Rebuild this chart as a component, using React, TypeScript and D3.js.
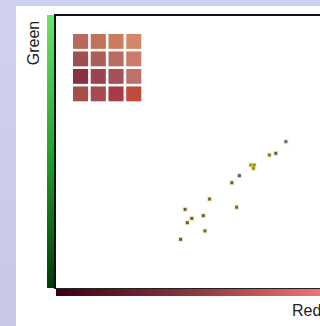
import React from "react";
import * as d3 from "d3";

// Scatter data (Red, Green) in 0-100 units
const redValues = [44.5, 46.1, 46.9, 48.5, 52.6, 53.2, 54.8, 64.5, 62.8, 65.5, 69.6, 70.8, 70.5, 76.2, 78.5, 82.1];
const greenValues = [17.9, 28.9, 24.0, 25.6, 26.6, 21.0, 32.7, 29.7, 38.7, 41.3, 45.2, 45.2, 44.0, 48.9, 49.5, 53.8];
const pointTones = ["#5e5a50", "#6e6028", "#6e6028", "#6e6028", "#6a6440", "#6a6670", "#7a6a20", "#686468", "#5e5c5c", "#5e5c5c", "#a08a10", "#a08a10", "#a08a10", "#8a7420", "#6e6440", "#6a6660"];

// 4x4 colour swatch grid
const swatchRows = [0, 1, 2, 3];
const swatchCols = [0, 1, 2, 3];
const swatchColors = [
  ["#b8695a", "#c27259", "#cc7b5d", "#d48667"],
  ["#9f4f50", "#ad5e58", "#b96b62", "#cc7a69"],
  ["#8b3040", "#9b434f", "#a85058", "#c0706b"],
  ["#a64f48", "#a8494f", "#a83a49", "#c24a3a"],
];

const axisLabels = { x: "Red", y: "Green" };

export default function App() {
  const W = 320, H = 326;
  const left = 56, top = 16, bottom = 288;
  const x = d3.scaleLinear().domain([0, 100]).range([left, 336]);
  const y = d3.scaleLinear().domain([0, 100]).range([bottom, top]);
  const gx = d3.scaleBand<number>().domain(swatchCols).range([73, 141.3]).paddingInner(0.15);
  const gy = d3.scaleBand<number>().domain(swatchRows).range([34, 101.3]).paddingInner(0.15);
  const font = "'Liberation Sans', Arial, sans-serif";

  return (
    <svg width={W} height={H} style={{ position: "absolute", left: 0, top: 0 }}>
      <defs>
        <linearGradient id="bgLeft" x1="0" y1="0" x2="0" y2="1">
          <stop offset="0" stopColor="#d2d2ee" />
          <stop offset="1" stopColor="#c8c8e6" />
        </linearGradient>
        <linearGradient id="greenBar" x1="0" y1="0" x2="0" y2="1">
          <stop offset="0" stopColor="#6ee46a" />
          <stop offset="0.5" stopColor="#23a42a" />
          <stop offset="1" stopColor="#013a06" />
        </linearGradient>
        <linearGradient id="redBar" x1="0" y1="0" x2="1" y2="0">
          <stop offset="0" stopColor="#3a0010" />
          <stop offset="0.5" stopColor="#8a343e" />
          <stop offset="1" stopColor="#ec7474" />
        </linearGradient>
      </defs>
      <rect x={0} y={0} width={W} height={H} fill="url(#bgLeft)" />
      <rect x={0} y={0} width={W} height={6} fill="#cfcfee" />
      <rect x={16} y={6} width={W - 16} height={H - 6} fill="#ffffff" />

      {/* plot frame */}
      <rect x={left} y={top} width={W - left + 10} height={bottom - top} fill="#ffffff" />
      <line x1={left - 1} x2={W} y1={top - 1} y2={top - 1} stroke="#111" strokeWidth={2} />
      <line x1={left - 1} x2={left - 1} y1={top - 2} y2={bottom + 1} stroke="#111" strokeWidth={2} />

      {/* gradient axis bars */}
      <rect x={47} y={top - 1} width={7} height={bottom - top + 1} fill="url(#greenBar)" />
      <rect x={left} y={bottom} width={W - left} height={8} fill="url(#redBar)" />
      <line x1={left} x2={W} y1={bottom + 0.5} y2={bottom + 0.5} stroke="#222" strokeWidth={1} />

      {/* swatch grid */}
      {swatchRows.map((r) =>
        swatchCols.map((c) => (
          <rect key={`s${r}-${c}`} x={gx(c)} y={gy(r)} width={gx.bandwidth()} height={gy.bandwidth()} fill={swatchColors[r][c]} />
        ))
      )}

      {/* points */}
      {redValues.map((rv, i) => (
        <g key={`p${i}`}>
          <rect x={x(rv) - 2.5} y={y(greenValues[i]) - 2.5} width={5} height={5} fill="#e8d868" opacity={0.45} />
          <rect x={x(rv) - 1.5} y={y(greenValues[i]) - 1.5} width={3} height={3} fill={pointTones[i]} />
        </g>
      ))}

      {/* axis labels */}
      <text x={292} y={316} fontFamily={font} fontSize={16} fill="#222">{axisLabels.x}</text>
      <text transform="translate(38.5,43) rotate(-90)" textAnchor="middle" fontFamily={font} fontSize={16} fill="#222">{axisLabels.y}</text>
    </svg>
  );
}
